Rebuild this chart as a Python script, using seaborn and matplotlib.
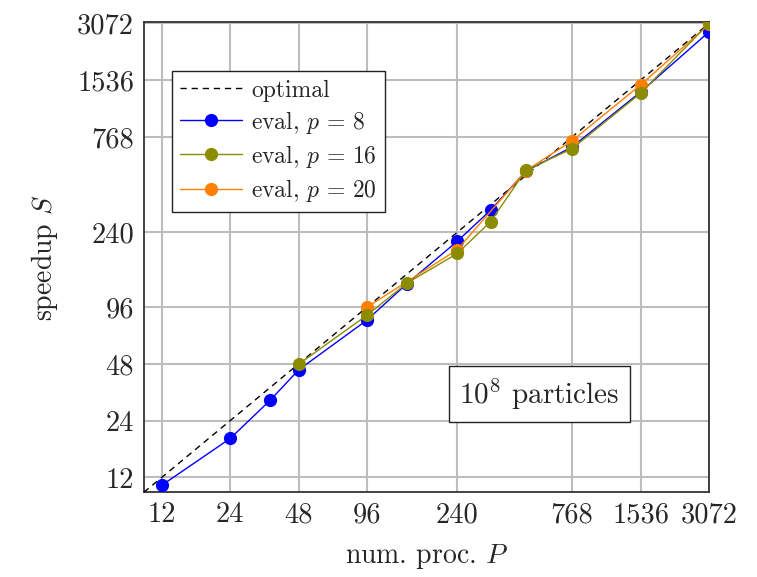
import matplotlib
matplotlib.use("Agg")
import matplotlib.pyplot as plt
import seaborn as sns
import pandas as pd

# ---- data ----
ticks = [12, 24, 48, 96, 240, 768, 1536, 3072]
tick_labels = ["12", "24", "48", "96", "240", "768", "1536", "3072"]

opt_P = [10, 3072]
opt_S = [10, 3072]

p8_P = [12, 24, 36, 48, 96, 144, 240, 336, 480, 768, 1536, 3072]
p8_S = [10.9, 19.3, 30.8, 44.6, 82, 128, 215, 314, 505, 680, 1330, 2770]

p16_P = [48, 96, 144, 240, 336, 480, 768, 1536, 3072]
p16_S = [47.8, 87, 128.8, 185, 273, 510, 666, 1310, 3072]

p20_P = [96, 240, 480, 768, 1536, 3072]
p20_S = [96, 194, 508, 734, 1450, 3040]

series_names = [r"eval, $p\,=\,8$", r"eval, $p\,=\,16$", r"eval, $p\,=\,20$"]
colors = {"p8": "#0000ff", "p16": "#8c8c00", "p20": "#ff8000"}

# ---- style ----
sns.set_style("white")
plt.rcParams["font.family"] = ["cmr10", "DejaVu Serif"]
plt.rcParams["mathtext.fontset"] = "cm"
plt.rcParams["axes.formatter.use_mathtext"] = True
plt.rcParams["axes.unicode_minus"] = False

fig = plt.figure(figsize=(7.57, 5.77), dpi=100)
ax = fig.add_axes([0.190, 0.1468, 0.7466, 0.8146])

ax.set_xscale("log")
ax.set_yscale("log")

sns.lineplot(x=opt_P, y=opt_S, ax=ax, color="black", linestyle=(0, (4.5, 3.5)),
             linewidth=1.0, label="optimal", zorder=3)

df8 = pd.DataFrame({"P": p8_P, "S": p8_S})
df16 = pd.DataFrame({"P": p16_P, "S": p16_S})
df20 = pd.DataFrame({"P": p20_P, "S": p20_S})

sns.lineplot(data=df8, x="P", y="S", ax=ax, color=colors["p8"], marker="o",
             markersize=9.5, markeredgewidth=0, linewidth=1.0,
             label=series_names[0], zorder=4)
sns.lineplot(data=df20, x="P", y="S", ax=ax, color=colors["p20"], marker="o",
             markersize=9.5, markeredgewidth=0, linewidth=1.0,
             label=series_names[2], zorder=5)
sns.lineplot(data=df16, x="P", y="S", ax=ax, color=colors["p16"], marker="o",
             markersize=9.5, markeredgewidth=0, linewidth=1.0,
             label=series_names[1], zorder=6)

ax.set_xlim(10, 3072)
ax.set_ylim(10, 3115)

ax.set_xticks(ticks)
ax.set_xticklabels(tick_labels)
ax.set_yticks(ticks)
ax.set_yticklabels(tick_labels)
ax.minorticks_off()
ax.tick_params(axis="both", which="both", length=0, labelsize=20.5, pad=7)

ax.grid(True, which="major", color="#bdbdbd", linewidth=1.5, zorder=0)
ax.set_axisbelow(True)
for s in ax.spines.values():
    s.set_color("#333333")
    s.set_linewidth(1.3)

ax.set_xlabel("num. proc. $P$", fontsize=20, labelpad=10)
ax.set_ylabel("speedup $S$", fontsize=20, labelpad=12)

handles, labels = ax.get_legend_handles_labels()
order = ["optimal"] + series_names
hmap = dict(zip(labels, handles))
leg = ax.legend([hmap[k] for k in order], order, loc="upper left",
                bbox_to_anchor=(0.0496, 0.896), borderaxespad=0,
                fontsize=17, frameon=True,
                fancybox=False, edgecolor="#222222", framealpha=1,
                handlelength=2.6, borderpad=0.35, labelspacing=0.3,
                handletextpad=0.4)
leg.get_frame().set_linewidth(1.0)

ax.text(0.70, 0.209, "$10^8$ particles", transform=ax.transAxes, fontsize=21,
        ha="center", va="center", zorder=10,
        bbox=dict(boxstyle="square,pad=0.35", facecolor="white",
                  edgecolor="#222222", linewidth=1.0))

fig.savefig("out.png", dpi=100)
